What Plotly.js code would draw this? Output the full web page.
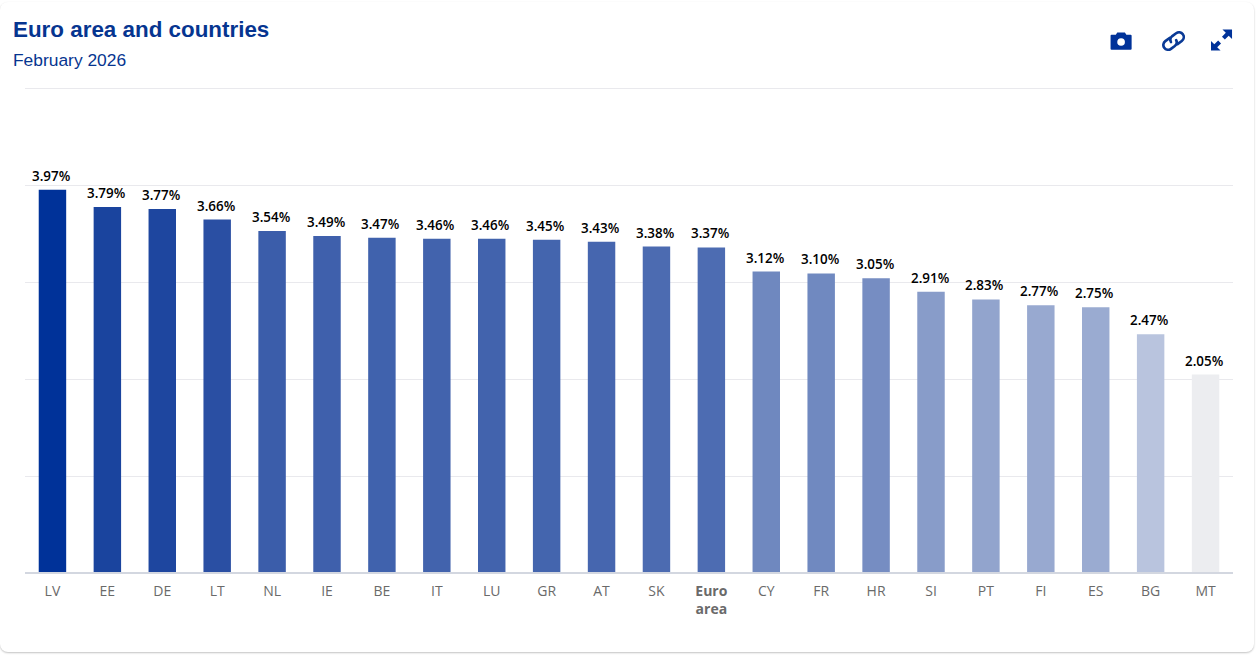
<!DOCTYPE html>
<html>
<head>
<meta charset="utf-8">
<script src="https://cdn.plot.ly/plotly-3.0.1.min.js"></script>
<style>
html,body{margin:0;padding:0;background:#fff;width:1256px;height:657px;overflow:hidden}
#card{position:absolute;left:0;top:2px;width:1254px;height:650px;background:#fff;border-radius:8px;box-shadow:0 1px 2px rgba(0,0,0,.24)}
#chart{position:absolute;left:0;top:0;width:1256px;height:657px}
</style>
</head>
<body>
<div id="card"></div>
<div id="chart"></div>
<script>
var categories = ["LV","EE","DE","LT","NL","IE","BE","IT","LU","GR","AT","SK","Euro area","CY","FR","HR","SI","PT","FI","ES","BG","MT"];
var tickLabels = ["LV","EE","DE","LT","NL","IE","BE","IT","LU","GR","AT","SK","<b>Euro<br>area</b>","CY","FR","HR","SI","PT","FI","ES","BG","MT"];
var rates = [3.97,3.79,3.77,3.66,3.54,3.49,3.47,3.46,3.46,3.45,3.43,3.38,3.37,3.12,3.10,3.05,2.91,2.83,2.77,2.75,2.47,2.05];
var barColors = ["#003299","#1a449e","#1e469f","#2a4fa3","#3b5daa","#3f60ac","#4062ad","#4263ad","#4263ad","#4465ae","#4666af","#4c6bb1","#4d6cb2","#6f88bf","#7089c0","#768dc2","#889cc9","#92a4cd","#98a9d0","#9aabd1","#b9c4de","#ecedf0"];
var icons = {
  camera: "<svg xmlns='http://www.w3.org/2000/svg' viewBox='0 0 24 24'><path fill='#003299' d='M8 3 L16 3 L17.5 5.5 L22 5.5 Q23 5.5 23 6.5 L23 20 Q23 21 22 21 L2 21 Q1 21 1 20 L1 6.5 Q1 5.5 2 5.5 L6.5 5.5 Z'/><circle cx='12' cy='13' r='4' fill='#fff'/></svg>",
  link: "<svg xmlns='http://www.w3.org/2000/svg' viewBox='0 0 24 24'><g fill='none' stroke='#0a3a96' stroke-width='2.8' stroke-linecap='round' transform='rotate(-36 12 12)'><path d='M10.5 7 L5 7 A5 5 0 0 0 5 17 L10 17 A5 5 0 0 0 14.8 12.8'/><path d='M13.5 17 L19 17 A5 5 0 0 0 19 7 L14 7 A5 5 0 0 0 9.2 11.2'/></g></svg>",
  expand: "<svg xmlns='http://www.w3.org/2000/svg' viewBox='0 0 24 24'><g fill='#003299'><path d='M13 1 L23 1 L23 11 L19.5 7.5 L15.5 11.5 L12.5 8.5 L16.5 4.5 Z'/><path d='M11 23 L1 23 L1 13 L4.5 16.5 L8.5 12.5 L11.5 15.5 L7.5 19.5 Z'/></g></svg>"
};
var plotH = 492.5;
function iconImage(svg, cx, cy) {
  return {source:"data:image/svg+xml;utf8,"+encodeURIComponent(svg), xref:"paper", yref:"paper",
    x:(cx-24.5)/1209, y:(572.5-cy)/plotH, sizex:23/1209, sizey:23/plotH, xanchor:"center", yanchor:"middle", sizing:"contain", layer:"above"};
}
var trace = {
  type:"bar", x:categories, y:rates, width:0.5,
  marker:{color:barColors, line:{width:0}},
  hoverinfo:"x+y"
};
var valueLabels = categories.map(function(c,i){
  return {x:c, y:rates[i], xref:"x", yref:"y", text:rates[i].toFixed(2)+"%", showarrow:false,
    xanchor:"center", yanchor:"bottom", xshift:-1, yshift:4, borderpad:0,
    font:{family:"'Open Sans',sans-serif", size:13.4, color:"#000", weight:600}};
});
var layout = {
  width:1256, height:657,
  margin:{l:24.5,r:22.5,t:80,b:84.5,pad:0},
  paper_bgcolor:"rgba(0,0,0,0)", plot_bgcolor:"rgba(0,0,0,0)",
  showlegend:false,
  title:{text:"<b>Euro area and countries</b>", x:13/1256, xanchor:"left", xref:"container",
         y:1-29/657, yanchor:"middle", yref:"container",
         font:{family:"'Liberation Sans',Arial,sans-serif", size:22.4, color:"#063590"}},
  annotations:[{text:"February 2026", xref:"paper", yref:"paper", x:(12-24.5)/1209, y:(572.5-60)/plotH,
    xanchor:"left", yanchor:"middle", showarrow:false,
    font:{family:"'Liberation Sans',Arial,sans-serif", size:17.4, color:"#063590"}, borderpad:0, borderwidth:0}].concat(valueLabels),
  xaxis:{type:"category", categoryorder:"array", categoryarray:categories, tickmode:"array", tickvals:categories, ticktext:tickLabels,
    range:[-0.5,21.5], showgrid:false, zeroline:false, showline:true, linecolor:"#d3d7e0", linewidth:2, ticks:"", ticklen:0,
    tickangle:0, automargin:false, ticklabelstandoff:5,
    tickfont:{family:"'Open Sans',sans-serif", size:14, color:"#6a6a6a"}},
  yaxis:{range:[0,5.109], dtick:1.0062, tick0:-0.0104, showticklabels:false, showgrid:true, gridcolor:"#e9e9ed", gridwidth:1, zeroline:false, ticks:"", automargin:false, showline:false},
  images:[iconImage(icons.camera,1121.5,41),iconImage(icons.link,1174,41),iconImage(icons.expand,1222,40)]
};
Plotly.newPlot("chart",[trace],layout,{displayModeBar:false,responsive:false});
</script>
</body>
</html>
